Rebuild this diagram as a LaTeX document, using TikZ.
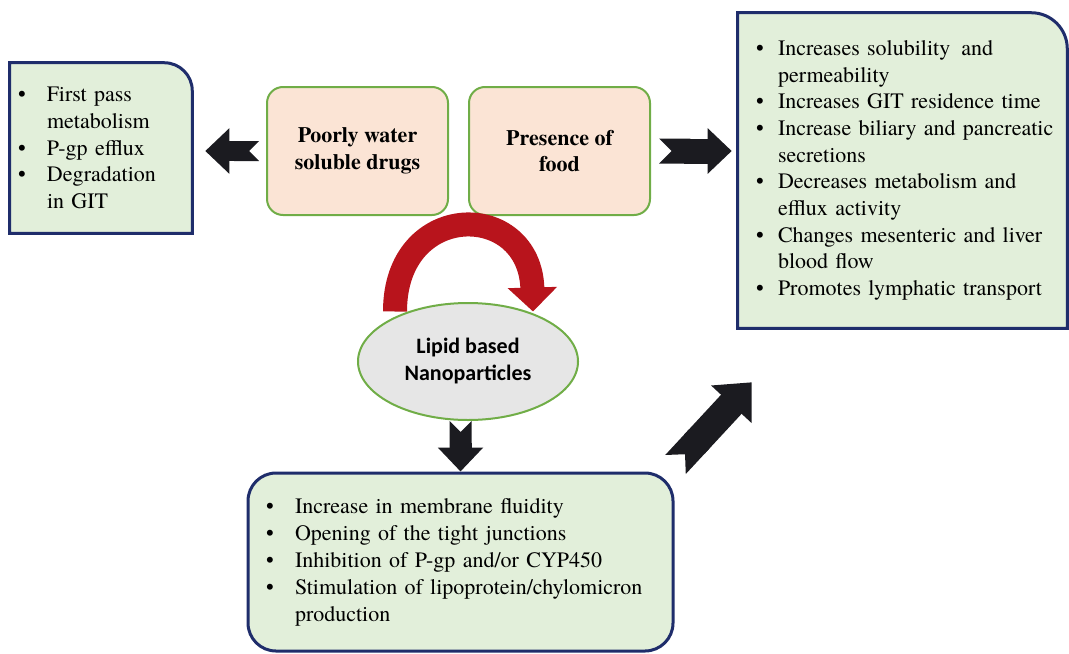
\documentclass[tikz,border=0pt]{standalone}
\usepackage{fontspec}
\IfFontExistsTF{texgyretermes-regular.otf}
  {\setmainfont{texgyretermes}[Extension=.otf,UprightFont=*-regular,BoldFont=*-bold]}
  {}
\newfontfamily\carlito{Carlito}
\usetikzlibrary{shapes.geometric,arrows.meta,positioning,calc,backgrounds}
\definecolor{marino}{HTML}{1F2D6B}
\definecolor{verde}{HTML}{70AD47}
\definecolor{verdec}{HTML}{E2EFDA}
\definecolor{melo}{HTML}{FBE4D5}
\definecolor{gris}{HTML}{E6E6E6}
\definecolor{rojo}{HTML}{B8141C}
\definecolor{negro}{HTML}{1B1B20}
\newcommand{\bul}[2][21.75pt]{\noindent\hangindent=#1\hangafter=1\makebox[#1][l]{\textbullet}#2\par}

\begin{document}
\begin{tikzpicture}[x=0.75pt,y=-0.75pt,
  lista/.style={align=left,inner xsep=13.5pt,inner ysep=0pt,font={\fontsize{16.5}{20}\selectfont\hyphenpenalty=10000}},
  borde/.style={draw=marino,line width=2.25pt,fill=verdec},
  causa/.style={draw=verde,line width=1.5pt,rounded corners=12pt,fill=melo,align=center,
                minimum width=135.75pt,minimum height=96pt,font=\fontsize{16.5}{20}\selectfont\bfseries},
  flecha/.style={draw=negro,line width=16.5pt,{Triangle Cap[reversed]}-{Triangle[length=18pt,width=33pt]}},
  curva/.style={draw=rojo,line width=18pt,-{Triangle[length=18pt,width=36pt]}}]
  \useasboundingbox (0,0) rectangle (1069,653);
  % the two causes
  \node[causa] (poor) at (357.5,151) {Poorly water\\soluble drugs};
  \node[causa,right=14.25pt of poor] (food) {Presence of\\food};
  % barriers, left
  \node[lista,inner xsep=6pt,text width=124.5pt,minimum width=136.5pt,minimum height=127.5pt] (lft) at (101,148)
    {\bul{First pass\newline metabolism}
     \bul{P-gp efflux}
     \bul{Degradation\newline in GIT}};
  \scoped[on background layer]
    \draw[borde] (lft.south west) -- (lft.north west) [rounded corners=21pt] -- (lft.north east)
      [sharp corners] -- (lft.south east) -- cycle;
  % effects of food, right
  \node[lista,text width=219.75pt,minimum width=246.75pt,minimum height=236.25pt] (rgt) at (902.5,170.5)
    {\bul[16.5pt]{Increases solubility\, and\newline permeability}
     \bul[16.5pt]{Increases GIT residence time}
     \bul[16.5pt]{\mbox{Increase biliary and pancreatic}\newline secretions}
     \bul[16.5pt]{Decreases metabolism and\newline efflux activity}
     \bul[16.5pt]{Changes mesenteric and liver\newline blood flow}
     \bul[16.5pt]{Promotes lymphatic transport}};
  \scoped[on background layer]
    \draw[borde] (rgt.south west) -- (rgt.north west) [rounded corners=27pt] -- (rgt.north east)
      [sharp corners] -- (rgt.south east) -- cycle;
  % carrier
  \node[ellipse,draw=verde,line width=1.5pt,fill=gris,minimum width=165pt,minimum height=87.75pt,inner sep=0pt,
        align=center,font=\carlito\bfseries\fontsize{16.5}{20.25}\selectfont] (lnp) at (468,361.5)
    {Lipid based\\Nanoparticles};
  % mechanisms, bottom
  \node[lista,borde,rounded corners=21pt,text width=291.75pt,minimum width=318.75pt,minimum height=133.5pt,
        font={\fontsize{16.5}{20.25}\selectfont}] (bot) at (460.5,562)
    {\bul{Increase in membrane fluidity}
     \bul{Opening of the tight junctions}
     \bul{Inhibition of P-gp and/or CYP450}
     \bul{Stimulation of lipoprotein/chylomicron\newline production}};
  % block arrows
  \draw[flecha,line width=15pt] ($(poor.west)+(-7,0)$) -- ($(lft.east |- poor.west)+(13,0)$);
  \draw[flecha,line width=18.75pt] ($(food.east)+(8,0)$) -- ($(rgt.west |- food.east)+(-6,0)$);
  \draw[flecha] (lnp.south -| bot.north) -- (bot.north);
  \draw[flecha,line width=21pt,{Triangle Cap[reversed]}-{Triangle[length=22.5pt,width=40pt]}]
    ($(bot.north east)+(1,-7)$) -- ($(rgt.south west)+(14,54)$);
  % curved arrow
  \coordinate (ra) at ($(lnp.center)+(-73,-50)$);
  \coordinate (rb) at ($(lnp.center)+(65,-50)$);
  \draw[curva] (ra) .. controls +(0,-112) and +(-3,-112) .. (rb);
\end{tikzpicture}
\end{document}
